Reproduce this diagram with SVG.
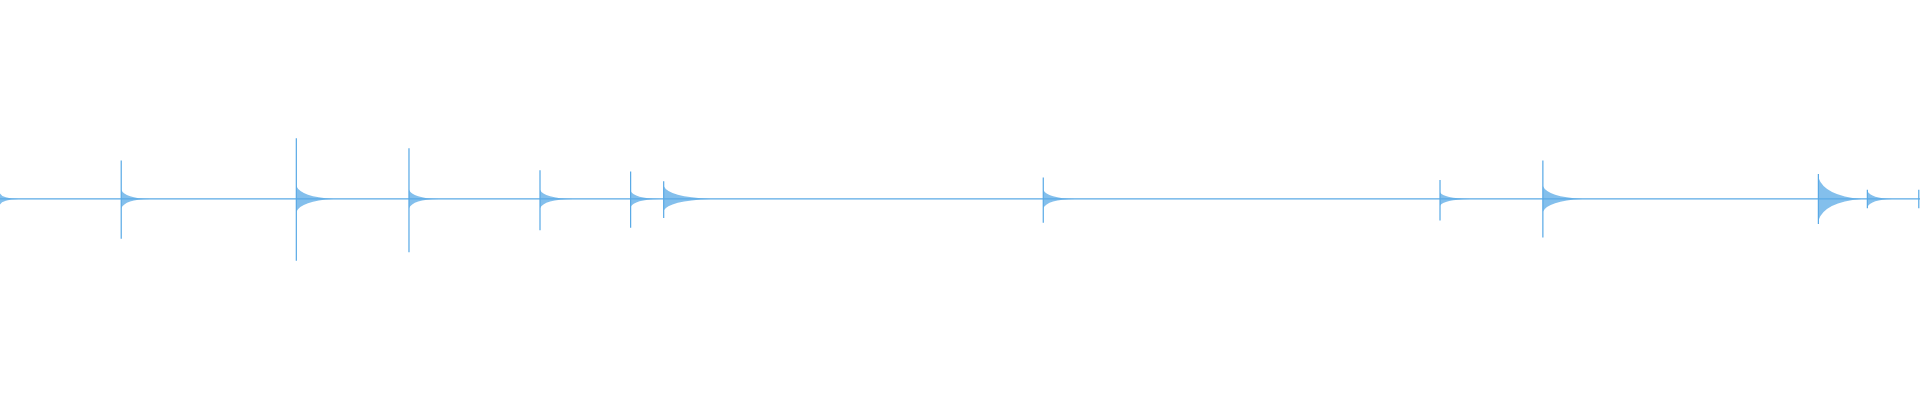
<svg xmlns="http://www.w3.org/2000/svg" width="1920" height="400" viewBox="0 0 1920 400">
<style>.w{stroke:#5aaae6;stroke-width:1;fill:none}.t{fill:#5aaae6;stroke:none;opacity:0.75}</style>
<rect width="1920" height="400" fill="#fff"/>
<g transform="scale(1.2245)">
<line class="w" x1="0" y1="162.5" x2="1568" y2="162.5"/>
<g id="spikes">
<path class="t" d="M0,158 Q2,162 15,162.5 Q2,163 0,167Z"/>
<line class="w" x1="99" y1="131" x2="99" y2="195"/><path class="t" d="M99,155 Q102,162 122,162.5 Q102,163 99,170Z"/>
<line class="w" x1="242" y1="113" x2="242" y2="213"/><path class="t" d="M242,152 Q246,161 272,162.5 Q246,164 242,173Z"/>
<line class="w" x1="334" y1="121" x2="334" y2="206"/><path class="t" d="M334,155 Q337,162 358,162.5 Q337,163 334,170Z"/>
<line class="w" x1="441" y1="139" x2="441" y2="188"/><path class="t" d="M441,155 Q444,162 468,162.5 Q444,163 441,170Z"/>
<line class="w" x1="515" y1="140" x2="515" y2="186"/><path class="t" d="M515,156 Q518,162 538,162.5 Q518,163 515,169Z"/>
<line class="w" x1="542" y1="148" x2="542" y2="178"/><path class="t" d="M542,152 Q546,161 580,162.5 Q546,164 542,172Z"/>
<line class="w" x1="852" y1="145" x2="852" y2="182"/><path class="t" d="M852,155 Q855,162 878,162.5 Q855,163 852,170Z"/>
<line class="w" x1="1176" y1="147" x2="1176" y2="180"/><path class="t" d="M1176,157 Q1179,162 1200,162.5 Q1179,163 1176,168Z"/>
<line class="w" x1="1260" y1="131" x2="1260" y2="194"/><path class="t" d="M1260,152 Q1264,161 1292,162.5 Q1264,164 1260,173Z"/>
<line class="w" x1="1485" y1="142" x2="1485" y2="183"/><path class="t" d="M1485,145 Q1490,160 1520,162.5 Q1490,165 1485,180Z"/>
<line class="w" x1="1525" y1="155" x2="1525" y2="170"/><path class="t" d="M1525,156 Q1528,162 1545,162.5 Q1528,163 1525,169Z"/>
<line class="w" x1="1567" y1="155" x2="1567" y2="170"/>
</g>
</g>
</svg>
